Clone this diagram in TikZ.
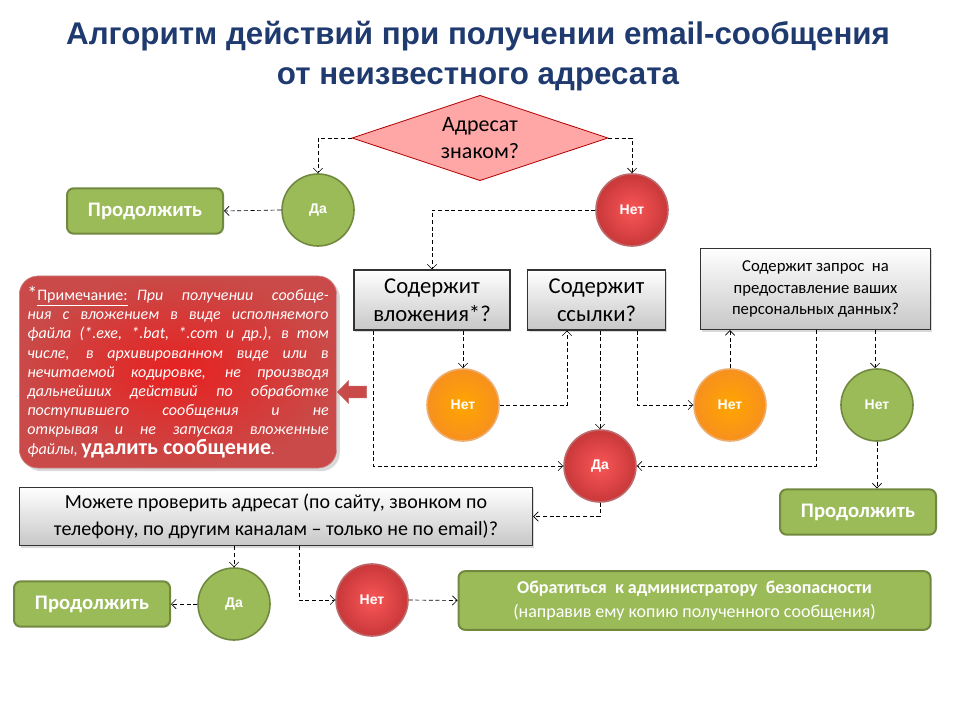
\documentclass[tikz,border=0pt]{standalone}
\usepackage{fontspec}
\setmainfont{Carlito}
\newfontfamily\arialf{Liberation Sans}
\usetikzlibrary{arrows.meta,shapes.geometric,shapes.arrows,shadows}
\definecolor{titleblue}{HTML}{1F3A6E}
\definecolor{gfill}{HTML}{9BBB59}
\definecolor{gdraw}{HTML}{71893F}
\definecolor{rfill}{HTML}{C9383A}
\definecolor{rdraw}{HTML}{A0282A}
\definecolor{ofill}{HTML}{F7901E}
\definecolor{odraw}{HTML}{E07A10}
\definecolor{nfill}{HTML}{C94A48}
\tikzset{
 circ/.style={circle,minimum size=54pt,inner sep=0pt,line width=1.2pt,text=white,font=\arialf\bfseries\fontsize{10.5}{12}\selectfont},
 gcirc/.style={circ,fill=gfill,draw=gdraw},
 rcirc/.style={circ,inner color=red!65!white!90!rfill,outer color=rfill,draw=rdraw!70},
 ocirc/.style={circ,inner color=orange!70!yellow,outer color=ofill,draw=odraw!60},
 gbox/.style={rounded corners=5pt,fill=gfill,draw=gdraw,line width=1.5pt,text=white,font=\bfseries\fontsize{15.5}{18}\selectfont,inner sep=0pt},
 qbox/.style={draw=black!80,line width=0.8pt,top color=white,bottom color=black!22,drop shadow={opacity=0.3,shadow xshift=1pt,shadow yshift=-1.5pt},align=center,inner sep=0pt},
 con/.style={densely dashed,line width=0.5pt,-{Straight Barb[length=3.5pt,width=7pt]}}
}
\begin{document}
\begin{tikzpicture}[x=0.75pt,y=-0.75pt]
\useasboundingbox (0,0) rectangle (960,720);
\node[font=\arialf\bfseries\fontsize{23.5}{27}\selectfont,text=titleblue,align=center] (title) at (478,56) {Алгоритм действий при получении email-сообщения\\[3pt]от неизвестного адресата};
\node[diamond,aspect=3,minimum width=192pt,minimum height=64pt,inner sep=0pt,fill=red!35!white,draw=red!70!black,line width=0.6pt,align=center,font=\fontsize{16.5}{20}\selectfont] (d) at (480,138) {Адресат\\знаком?};
\node[gcirc] (da1) at (318,210) {Да};
\node[rcirc] (net1) at (632,210) {Нет};
\node[gbox,minimum width=117pt,minimum height=34pt] (p1) at (145,211) {Продолжить};
\node[qbox,minimum width=117pt,minimum height=45pt,font=\fontsize{17}{21}\selectfont] (b1) at (432,300) {Содержит\\вложения*?};
\node[qbox,minimum width=104pt,minimum height=45pt,font=\fontsize{17}{21}\selectfont] (b2) at (596.5,300) {Содержит\\ссылки?};
\node[qbox,minimum width=173pt,minimum height=61pt,font=\fontsize{12.5}{16}\selectfont] (b3) at (815.5,289) {Содержит запрос~ на\\предоставление ваших\\персональных данных?};
\node[ocirc] (on1) at (463,405) {Нет};
\node[ocirc] (on2) at (730,405) {Нет};
\node[gcirc] (gn3) at (877,405) {Нет};
\node[rcirc] (da2) at (600,466) {Да};
\node[gbox,minimum width=117pt,minimum height=34pt] (p2) at (858,512) {Продолжить};
\node[qbox,minimum width=385pt,minimum height=44pt,font=\fontsize{15}{20}\selectfont] (b4) at (276,516.5) {Можете проверить адресат (по сайту, звонком по\\телефону, по другим каналам -- только не по email)?};
\node[gbox,minimum width=117pt,minimum height=34pt] (p3) at (92,604) {Продолжить};
\node[gcirc] (da3) at (234,604) {Да};
\node[rcirc] (net3) at (372,600) {Нет};
\node[gbox,minimum width=354pt,minimum height=44pt,align=center,font=\fontsize{13.5}{18}\selectfont] (fin) at (694.5,600.5) {{\bfseries Обратиться~ к администратору~ безопасности}\\(направив ему копию полученного сообщения)};
\node[rounded corners=14pt,inner color=red!55!nfill,outer color=nfill,draw=red!60!black!50,line width=0.5pt,minimum width=238pt,minimum height=144pt,text width=226pt,align=justify,text=white,inner sep=0pt,font=\itshape\fontsize{12}{14.4}\selectfont,drop shadow={opacity=0.3}] (note) at (178,372) {{\upshape\fontsize{15}{14}\selectfont*}{\upshape\underline{Примечание:}} При~ получении~ сообще-\linebreak ния с вложением в виде исполняемого\linebreak файла (*.exe, *.bat, *.com и др.), в том\linebreak числе, в архивированном виде или в\linebreak нечитаемой кодировке, не производя\linebreak дальнейших действий по обработке\linebreak поступившего сообщения и не\linebreak открывая и не запуская вложенные\linebreak файлы, {\upshape\bfseries\fontsize{16.5}{14}\selectfont удалить сообщение}.};
\node[single arrow,shape border rotate=180,fill=nfill,draw=red!60!black!60,minimum height=22pt,minimum width=17pt,single arrow head extend=2pt,single arrow head indent=0pt,inner sep=2pt] (ra) at (355,392) {};
% connectors
\draw[con] (d.west) -| (da1.north);
\draw[con] (d.east) -| (net1.north);
\draw[con] (da1.west) -- (p1.east);
\draw[con] (net1.west) -| (b1.north);
\draw[con] (b1.south -| on1) -- (on1.north);
\draw[con] (on1.east) -| (b2.south -| 567,0);
\draw[con] (b2.south -| da2) -- (da2.north);
\draw[con] (b2.south -| 637,0) |- (on2.west);
\draw[con] (on2.north) -- (b3.south -| on2);
\draw[con] (b1.south -| 373,0) |- (da2.west);
\draw[con] (b3.south -| 816,0) |- (da2.east);
\draw[con] (b3.south -| 875,0) -- (gn3.north -| 875,0);
\draw[con] (gn3.south) -- (p2.north -| gn3);
\draw[con] (da2.south) |- (b4.east);
\draw[con] (b4.south -| da3) -- (da3.north);
\draw[con] (b4.south -| 299,0) |- (net3.west);
\draw[con] (da3.west) -- (p3.east);
\draw[con] (net3.east) -- (fin.west);
\end{tikzpicture}
\end{document}
